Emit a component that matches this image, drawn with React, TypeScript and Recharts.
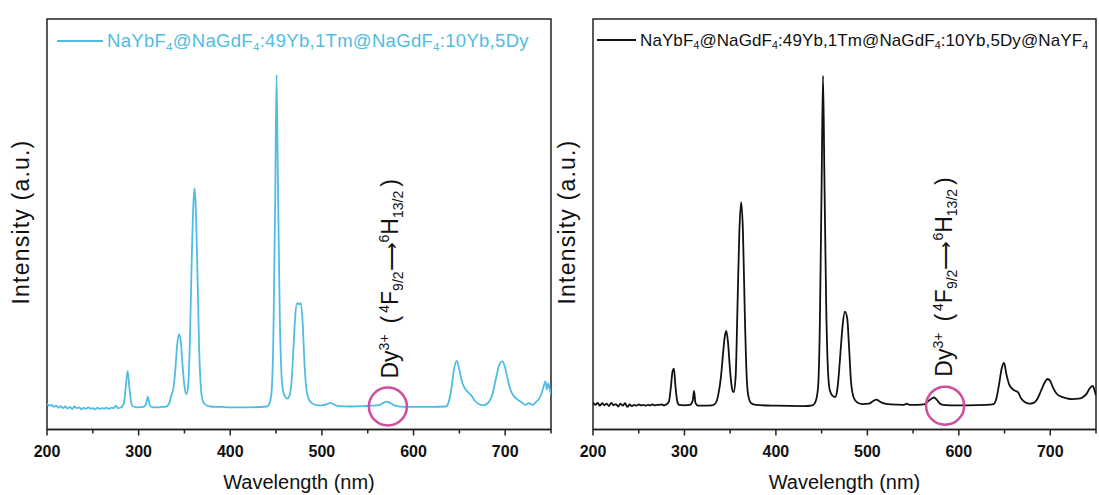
import React from "react";
import {
  LineChart,
  Line,
  XAxis,
  YAxis,
  ReferenceArea,
  ReferenceDot,
  Legend,
} from "recharts";

const FONT = '"Liberation Sans", Arial, Helvetica, sans-serif';
const BLUE = "#4fbde3";
const BLACK = "#111111";
const CIRCLE = "#cf4f9e";
const FRAME = "#222222";

// x axis ticks (labels only on the hundreds)
const xTicks = [200, 250, 300, 350, 400, 450, 500, 550, 600, 650, 700, 750];

// NaYbF4@NaGdF4:49Yb,1Tm@NaGdF4:10Yb,5Dy
const wavelengthA = [
  200, 202.5, 205, 207.5, 210, 212.5, 215, 217.5, 220, 222.5, 225, 227.5, 230, 232.5, 235, 237.5,
  240, 242.5, 245, 247.5, 250, 252.5, 255, 257.5, 260, 262.5, 265, 267.5, 270, 272.5, 275, 277.5, 280,
  282, 284, 286, 288, 290, 292, 294, 300, 305, 308, 310, 312, 315, 320, 325, 330,
  333, 336, 338, 340, 342, 344, 346, 348, 350, 352, 354, 356, 358, 360, 361, 362, 364, 366, 368, 370,
  373, 378, 390, 400, 420, 440, 443, 445, 447, 449, 450.5, 452, 454, 456, 458, 460, 462.5,
  465, 467, 469, 471, 473, 475, 477, 479, 481, 483, 486, 490, 495, 500, 505, 509, 513, 518,
  530, 545, 555, 563, 568, 571, 575, 580, 590, 600, 620, 635, 638, 641, 644, 647, 650, 653, 656,
  660, 663, 667, 671, 676, 681, 686, 690, 694, 697, 700, 703, 706, 710, 714, 718, 722, 726, 730,
  734, 737, 740, 742, 744, 745.5, 747, 748.5, 750,
];
const intensityA = [
  6.3, 5.8, 6.0, 5.5, 5.8, 5.3, 5.7, 5.2, 5.6, 5.1, 5.5, 5.0, 5.6, 5.2, 5.4, 4.9,
  5.3, 5.0, 5.4, 5.1, 5.2, 4.9, 5.3, 5.0, 5.2, 5.1, 5.3, 5.0, 5.3, 5.2, 5.8, 5.2, 5.3,
  5.6, 6.5, 10.5, 14.3, 10.0, 6.4, 5.6, 5.4, 5.5, 6.2, 8.0, 6.0, 5.4, 5.4, 5.5, 5.6,
  6.2, 8.5, 10.0, 14.5, 20.5, 23.2, 21.5, 15.5, 10.5, 8.6, 10.5, 22, 42, 56, 58.8, 56, 40, 20, 10, 7.0,
  6.0, 5.6, 5.5, 5.4, 5.4, 5.6, 6.5, 9, 22, 55, 86.4, 60, 28, 13, 9, 8, 7.5,
  8.5, 12, 20, 28, 30.8, 30.5, 30.8, 26, 16, 10, 7.2, 6.3, 5.9, 5.9, 6.1, 6.5, 6.1, 5.7,
  5.6, 5.7, 5.8, 6.0, 6.6, 6.8, 6.4, 5.8, 5.5, 5.5, 5.5, 5.6, 6.5, 9.5, 14.5, 16.8, 14.5, 11.5, 10.0,
  9.0, 8.3, 7.0, 6.2, 5.9, 6.4, 8.5, 12.5, 16.0, 16.6, 15.0, 12.0, 9.5, 8.0, 7.2, 6.6, 6.0, 6.4, 6.0,
  6.8, 7.5, 9.0, 10.5, 11.7, 9.8, 11.2, 10.0, 8.5,
];

// NaYbF4@NaGdF4:49Yb,1Tm@NaGdF4:10Yb,5Dy@NaYF4
const wavelengthB = [
  200, 202.5, 205, 207.5, 210, 212.5, 215, 217.5, 220, 222.5, 225, 227.5, 230, 232.5, 235, 237.5,
  240, 242.5, 245, 247.5, 250, 252.5, 255, 257.5, 260, 262.5, 265, 267.5, 270, 272.5, 275, 277.5, 280,
  283, 285, 287, 288.5, 290, 292, 294, 300, 306, 309, 310.5, 312, 315, 320, 330,
  334, 337, 340, 342, 344, 345.7, 347.5, 350, 352, 353.8, 356, 358, 360, 362, 364, 366, 368, 370,
  373, 378, 400, 430, 440, 443, 446, 448, 450, 451.5, 453, 455, 457, 459, 462, 464.7,
  467, 469, 471, 473, 475.5, 478, 480, 482, 485, 489, 495, 502, 506, 510, 513, 517,
  525, 540, 543, 546, 555, 562, 566, 570, 573, 576, 579, 583, 590, 610, 630, 638, 641, 644, 647,
  649.5, 652, 655, 658, 661, 664.7, 668, 672, 677, 682, 686, 690, 694, 697, 700, 703, 707,
  712, 718, 724, 731, 736, 740, 743, 746.5, 748.5, 750,
];
const intensityB = [
  6.6, 6.0, 6.5, 5.8, 6.4, 5.9, 6.3, 5.7, 6.5, 5.9, 6.2, 5.6, 6.3, 5.8, 6.4, 5.5,
  6.1, 5.7, 6.0, 5.8, 6.1, 5.9, 6.0, 5.8, 6.0, 5.9, 6.1, 5.9, 6.0, 6.0, 6.1, 5.9, 6.1,
  6.8, 10, 14.2, 14.8, 11, 7.0, 6.0, 5.9, 6.0, 7.0, 9.4, 6.5, 5.8, 5.8, 5.9,
  6.4, 8.5, 13, 18, 22.5, 24, 21.5, 14, 10, 9.1, 13, 30, 48, 55.4, 48, 28, 13, 8,
  6.4, 6.0, 5.8, 5.7, 5.9, 6.6, 10, 25, 60, 86.2, 62, 30, 14, 9.5, 8.2, 7.9,
  9.5, 14, 20, 25.5, 28.7, 27, 20, 12, 7.8, 6.6, 6.2, 6.3, 6.9, 7.3, 6.9, 6.4,
  6.1, 6.0, 6.3, 6.0, 6.0, 6.1, 6.8, 7.5, 7.8, 7.2, 6.4, 6.0, 5.9, 5.9, 6.0, 6.2, 7.5, 11, 15,
  16.2, 13.5, 11.0, 10.0, 9.5, 9.1, 7.6, 6.7, 6.3, 6.5, 7.5, 9.5, 11.5, 12.3, 11.8, 10.2, 8.7,
  8.0, 7.6, 7.4, 7.5, 7.9, 8.8, 10.0, 10.6, 9.5, 8.3,
];

type Seg = string | { sub: string };
const legendA: Seg[] = ["NaYbF", { sub: "4" }, "@NaGdF", { sub: "4" }, ":49Yb,1Tm@NaGdF", { sub: "4" }, ":10Yb,5Dy"];
const legendB: Seg[] = [
  "NaYbF", { sub: "4" }, "@NaGdF", { sub: "4" }, ":49Yb,1Tm@NaGdF", { sub: "4" }, ":10Yb,5Dy@NaYF", { sub: "4" },
];

const toRows = (wl: number[], v: number[]) => wl.map((w, i) => ({ wl: w, v: v[i] }));
const dataA = toRows(wavelengthA, intensityA);
const dataB = toRows(wavelengthB, intensityB);

function WaveTick(props: any) {
  const { x, y, payload } = props;
  const major = payload.value % 100 === 0;
  return (
    <g>
      <line x1={x} x2={x} y1={y} y2={y + (major ? 6 : 4)} stroke={FRAME} strokeWidth={1.5} />
      {major && payload.value < 750 && (
        <text x={x} y={y + 27} textAnchor="middle" fontFamily={FONT} fontSize={16} fontWeight="bold" fill="#111">
          {payload.value}
        </text>
      )}
    </g>
  );
}

function LegendBox({ color, fontSize, spacing, lineWidth, segs }: any) {
  return (
    <div
      style={{
        display: "flex",
        alignItems: "center",
        fontFamily: FONT,
        fontSize,
        color,
        letterSpacing: spacing,
        whiteSpace: "nowrap",
        lineHeight: 1,
      }}
    >
      <span style={{ display: "inline-block", width: lineWidth, height: 2, background: color, marginRight: 4 }} />
      <span>
        {segs.map((s: Seg, i: number) =>
          typeof s === "string" ? (
            <span key={i}>{s}</span>
          ) : (
            <span key={i} style={{ fontSize: "0.62em", position: "relative", top: "0.35em" }}>
              {s.sub}
            </span>
          )
        )}
      </span>
    </div>
  );
}

// rotated Dy3+ (4F9/2 -> 6H13/2) note, anchored next to the circle
const dyLabel = (dx: number, dy: number) => (props: any) => {
  const vb = props.viewBox;
  const x = vb.x + vb.width / 2 + dx;
  const y = vb.y + vb.height / 2 + dy;
  return (
    <text transform={`rotate(-90 ${x} ${y})`} x={x} y={y} fontFamily={FONT} fontSize={23} fill="#111">
      <tspan>Dy</tspan>
      <tspan dy={-9} fontSize={14}>3+</tspan>
      <tspan dy={9} dx={11}>(</tspan>
      <tspan dy={-9} dx={3} fontSize={14}>4</tspan>
      <tspan dy={9}>F</tspan>
      <tspan dy={5} fontSize={14}>9/2</tspan>
      <tspan dy={-5} fontSize={20}>⟶</tspan>
      <tspan dy={-9} fontSize={14}>6</tspan>
      <tspan dy={9}>H</tspan>
      <tspan dy={5} fontSize={14}>13/2</tspan>
      <tspan dy={-5} dx={4}>)</tspan>
    </text>
  );
};

function Panel(props: any) {
  const { data, color, width, margin, legend, circle, note } = props;
  return (
    <LineChart width={width} height={495} data={data} margin={margin}>
      <XAxis
        dataKey="wl"
        type="number"
        domain={[200, 750]}
        ticks={xTicks}
        interval={0}
        allowDataOverflow
        tickLine={false}
        tickSize={0}
        tickMargin={0}
        tick={<WaveTick />}
        axisLine={{ stroke: FRAME, strokeWidth: 1.5 }}
        height={65.5}
        label={{ value: "Wavelength (nm)", position: "insideBottom", offset: 6, fontSize: 20, fill: "#111", fontFamily: FONT }}
      />
      <YAxis hide type="number" domain={[0, 100]} allowDataOverflow />
      <ReferenceArea x1={200} x2={750} y1={0} y2={100} fill="none" stroke={FRAME} strokeWidth={1.5} ifOverflow="visible" />
      <Line
        type="monotone"
        dataKey="v"
        stroke={color}
        strokeWidth={1.8}
        dot={false}
        isAnimationActive={false}
      />
      <ReferenceDot
        x={circle.x}
        y={circle.y}
        r={19}
        fill="none"
        stroke={CIRCLE}
        strokeWidth={2.5}
        ifOverflow="visible"
        label={dyLabel(note.dx, note.dy)}
      />
      <Legend
        verticalAlign="middle"
        align="center"
        layout="horizontal"
        wrapperStyle={{ left: legend.left, top: legend.top, width: "auto", height: "auto" }}
        content={() => (
          <LegendBox
            color={color}
            fontSize={legend.fontSize}
            spacing={legend.spacing}
            lineWidth={legend.lineWidth}
            segs={legend.segs}
          />
        )}
      />
    </LineChart>
  );
}

function IntensityLabel({ x }: { x: number }) {
  return (
    <div
      style={{
        position: "absolute",
        left: x,
        top: 221.5,
        transform: "translate(-50%, -50%) rotate(-90deg)",
        whiteSpace: "nowrap",
        fontFamily: FONT,
        fontSize: 23,
        letterSpacing: 1.2,
        color: "#111",
        lineHeight: 1,
      }}
    >
      Intensity (a.u.)
    </div>
  );
}

export default function App() {
  return (
    <div style={{ position: "absolute", left: 0, top: 0, width: 1099, height: 495, background: "#fff" }}>
      <div style={{ position: "absolute", left: 0, top: 0, width: 560, height: 495 }}>
        <Panel
          data={dataA}
          color={BLUE}
          width={560}
          margin={{ top: 19, right: 9, bottom: 0, left: 47 }}
          legend={{ left: 57, top: 32, fontSize: 18.5, spacing: 0.3, lineWidth: 46, segs: legendA }}
          circle={{ x: 572, y: 5.6 }}
          note={{ dx: 10, dy: -28 }}
        />
        <IntensityLabel x={21} />
      </div>
      <div style={{ position: "absolute", left: 550, top: 0, width: 549, height: 495 }}>
        <Panel
          data={dataB}
          color={BLACK}
          width={549}
          margin={{ top: 19, right: 3, bottom: 0, left: 43 }}
          legend={{ left: 47, top: 31.5, fontSize: 17, spacing: 0.1, lineWidth: 39, segs: legendB }}
          circle={{ x: 585, y: 5.8 }}
          note={{ dx: 7, dy: -29 }}
        />
        <IntensityLabel x={17} />
      </div>
    </div>
  );
}
